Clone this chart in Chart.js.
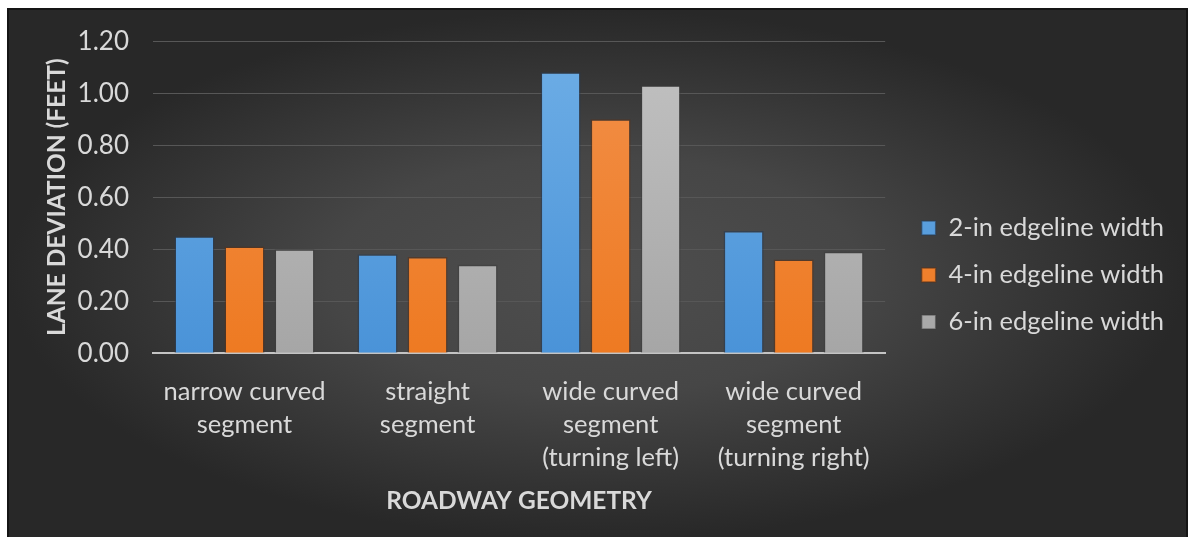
<!DOCTYPE html>
<html>
<head>
<meta charset="utf-8">
<script src="https://cdn.jsdelivr.net/npm/chart.js@4.4.1/dist/chart.umd.min.js"></script>
<style>
  html, body { margin: 0; padding: 0; background: #ffffff; overflow: hidden; }
  #frame {
    position: absolute; left: 7px; top: 8px;
    width: 1177px; height: 530px;
    border: 2px solid #151515;
  }
  canvas { display: block; }
</style>
</head>
<body>
<div id="frame"><canvas id="container" width="1177" height="530"></canvas></div>
<script>
const categories = [
    ['narrow curved', 'segment'],
    ['straight', 'segment'],
    ['wide curved', 'segment', '(turning left)'],
    ['wide curved', 'segment', '(turning right)']
]
const width2in = [0.45, 0.38, 1.08, 0.47]
const width4in = [0.41, 0.37, 0.90, 0.36]
const width6in = [0.40, 0.34, 1.03, 0.39]
const yTicks = [0, 0.2, 0.4, 0.6, 0.8, 1.0, 1.2]

const textColor = '#d9d9d9'
Chart.defaults.font.family = 'Lato, "Open Sans", sans-serif'

// vertical gradient over the plot area for each bar colour
function barFill(top, bottom) {
    return (ctx) => {
        const area = ctx.chart.chartArea
        if (!area) return bottom
        const g = ctx.chart.ctx.createLinearGradient(0, area.top, 0, area.bottom)
        g.addColorStop(0, top)
        g.addColorStop(1, bottom)
        return g
    }
}

// dark elliptical backdrop behind the whole chart
const backdrop = {
    id: 'backdrop',
    beforeDraw(chart) {
        const { ctx, width, height } = chart
        ctx.save()
        ctx.translate(width / 2, height / 2)
        ctx.scale(1, height / width)
        const r = width / 2
        const g = ctx.createRadialGradient(0, 0, 0, 0, 0, r)
        g.addColorStop(0, '#4e4e4e')
        g.addColorStop(0.45, '#464646')
        g.addColorStop(1, '#282828')
        ctx.fillStyle = g
        ctx.fillRect(-width, -width, width * 2, width * 2)
        ctx.restore()
    }
}

const bar = {
    borderWidth: 1.5,
    borderSkipped: 'bottom',
    categoryPercentage: 0.82,
    barPercentage: 0.8
}

const chart = new Chart(document.getElementById('container'), {
    type: 'bar',
    data: {
        labels: categories,
        datasets: [
            Object.assign({
                label: '2-in edgeline width',
                data: width2in,
                backgroundColor: barFill('#6eaee6', '#4a93d8'),
                borderColor: 'rgba(40, 60, 85, 0.6)'
            }, bar),
            Object.assign({
                label: '4-in edgeline width',
                data: width4in,
                backgroundColor: barFill('#f2904a', '#ee7a22'),
                borderColor: 'rgba(90, 50, 25, 0.6)'
            }, bar),
            Object.assign({
                label: '6-in edgeline width',
                data: width6in,
                backgroundColor: barFill('#c2c2c2', '#a6a6a6'),
                borderColor: 'rgba(60, 60, 60, 0.5)'
            }, bar)
        ]
    },
    options: {
        responsive: false,
        animation: false,
        layout: { padding: { top: 24, right: 12, bottom: 24, left: 0 } },
        plugins: {
            tooltip: { enabled: false },
            legend: {
                position: 'right',
                align: 'center',
                maxWidth: 320,
                labels: {
                    color: textColor,
                    font: { size: 25.5 },
                    boxWidth: 14,
                    boxHeight: 14,
                    padding: 21.5
                }
            }
        },
        scales: {
            x: {
                grid: { display: false, drawTicks: false },
                border: { color: '#c4c4c4', width: 2 },
                ticks: {
                    color: textColor,
                    font: { size: 25.5, lineHeight: 1.3 },
                    padding: 22,
                    maxRotation: 0,
                    autoSkip: false
                },
                title: {
                    display: true,
                    text: 'ROADWAY GEOMETRY',
                    color: textColor,
                    font: { size: 24.5, weight: 'bold' },
                    padding: { top: -10, bottom: 0 }
                }
            },
            y: {
                min: 0,
                max: 1.2,
                afterFit(scale) { scale.width = 144 },
                afterBuildTicks(scale) { scale.ticks = yTicks.map(v => ({ value: v })) },
                grid: { color: '#575757', lineWidth: 1, drawTicks: false },
                border: { display: false },
                ticks: {
                    color: textColor,
                    font: { size: 26, lineHeight: 0.55 },
                    padding: 24,
                    callback: v => v.toFixed(2)
                },
                title: {
                    display: true,
                    text: 'LANE DEVIATION (FEET)',
                    color: textColor,
                    font: { size: 24.5, weight: 'bold' },
                    padding: { top: 33, bottom: 0 }
                }
            },
            // empty strip between the plot and the legend
            gap: {
                type: 'linear',
                position: 'right',
                afterFit(scale) { scale.width = 15 },
                grid: { display: false, drawTicks: false },
                border: { display: false },
                ticks: { display: false }
            }
        }
    },
    plugins: [backdrop]
})
</script>
</body>
</html>
